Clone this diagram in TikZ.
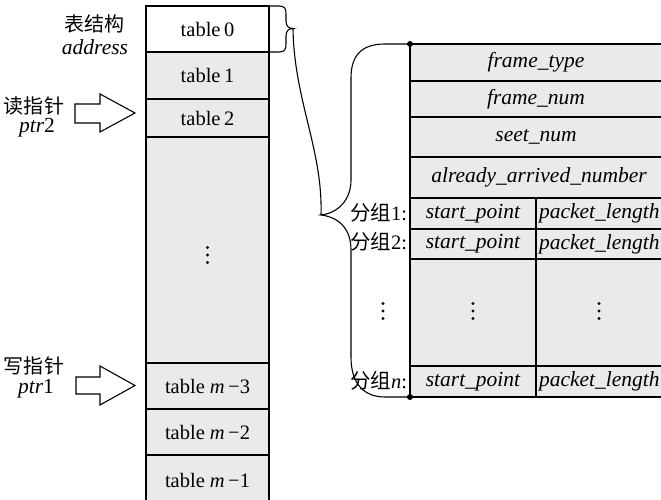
\documentclass[tikz,border=0pt]{standalone}
\usepackage{fontspec}
\setmainfont{Liberation Serif}
\newfontfamily\cjk{Noto Sans CJK SC}
\definecolor{cellgray}{RGB}{234,234,234}
\begin{document}
\begin{tikzpicture}[x=1pt,y=-1pt,
  every node/.style={inner sep=0pt,outer sep=0pt,font=\fontsize{20.5}{24}\selectfont},
  cellL/.style={draw,line width=1.7pt,fill=cellgray,minimum width=123pt},
  cellR/.style={draw,line width=1.7pt,fill=cellgray,minimum width=252pt},
  cellA/.style={draw,line width=1.7pt,fill=cellgray,minimum width=126pt},
  fieldtxt/.style={font=\fontsize{21.5}{24}\selectfont\itshape},
  cjklab/.style={font=\fontsize{20}{24}\selectfont\cjk},
  thin/.style={line width=1.1pt},
  hollowarrow/.style={draw,line width=1.1pt,fill=white,line join=miter}]
\clip (0,0) rectangle (661,500);
\fill[white] (0,0) rectangle (661,500);
% left table
\node[cellL,fill=white,minimum height=46pt] (t0) at (207.5,29) {table\,0};
\node[cellL,minimum height=47pt] (t1) at (207.5,75.5) {table\,1};
\node[cellL,minimum height=38pt] (t2) at (207.5,118) {table\,2};
\node[cellL,minimum height=226pt] (tdots) at (207.5,250) {};
\node[cellL,minimum height=46pt] (tm3) at (207.5,386) {table \textit{m}\,−3};
\node[cellL,minimum height=46pt] (tm2) at (207.5,432) {table \textit{m}\,−2};
\node[cellL,minimum height=56pt] (tm1) at (207.5,483) {\raisebox{5pt}{table \textit{m}\,−1}};
% left labels
\node[cjklab] (lbl1) at (94,24) {表结构};
\node[fieldtxt] (lbl2) at (95,47) {address};
\node[cjklab] (rd) at (34,106) {读指针};
\node[fieldtxt] (rdp) at (37,128) {ptr\upshape 2};
\node[cjklab] (wr) at (34,366) {写指针};
\node[fieldtxt] (wrp) at (36,389) {ptr\upshape 1};
% hollow arrows
\draw[hollowarrow] (75,104) -- (100,104) -- (100,94) -- (135,113) -- (100,132) -- (100,123) -- (75,123) -- cycle;
\draw[hollowarrow] (76,377) -- (100,377) -- (100,366) -- (135,385.5) -- (100,405) -- (100,394) -- (76,394) -- cycle;
% right table
\node[cellR,minimum height=37pt] (r1) at (536,62.5) {};
\node[cellR,minimum height=36pt] (r2) at (536,99) {};
\node[cellR,minimum height=40pt] (r3) at (536,137) {};
\node[cellR,minimum height=41pt] (r4) at (536,177.5) {};
\node[fieldtxt] (r1t) at (536,62) {frame\_type};
\node[fieldtxt] (r2t) at (536,99) {frame\_num};
\node[fieldtxt] (r3t) at (536,137) {seet\_num};
\node[fieldtxt] (r4t) at (539,177) {already\_arrived\_number};
\node[cellA,minimum height=31pt] (g1a) at (473,213.5) {};
\node[cellA,minimum height=31pt] (g1b) at (599,213.5) {};
\node[cellA,minimum height=30pt] (g2a) at (473,244) {};
\node[cellA,minimum height=30pt] (g2b) at (599,244) {};
\node[cellA,minimum height=107pt] (gda) at (473,312.5) {};
\node[cellA,minimum height=107pt] (gdb) at (599,312.5) {};
\node[cellA,minimum height=31pt] (gna) at (473,381.5) {};
\node[cellA,minimum height=31pt] (gnb) at (599,381.5) {};
\node[fieldtxt] (g1at) at (g1a) {start\_point};
\node[fieldtxt,anchor=west] (g1bt) at ([xshift=3pt]g1b.west) {packet\_length};
\node[fieldtxt] (g2at) at (g2a) {start\_point};
\node[fieldtxt,anchor=west] (g2bt) at ([xshift=3pt]g2b.west) {packet\_length};
\node[fieldtxt] (gnat) at (gna) {start\_point};
\node[fieldtxt,anchor=west] (gnbt) at ([xshift=3pt]gnb.west) {packet\_length};
% vertical ellipses
\foreach \px/\py in {207.5/255, 473/311, 599/311, 383/311}
  \foreach \dy in {-7.5,0,7.5}
    \fill (\px,\py+\dy) circle (1.7pt);
% group labels
\node[anchor=east] (p1) at (407,213) {{\cjk 分组}1:};
\node[anchor=east] (p2) at (407,242) {{\cjk 分组}2:};
\node[anchor=east] (pn) at (407,381) {{\cjk 分组}\textit{n}:};
% braces
\coordinate (sb) at (293,28.5);
\coordinate (bb) at (321,215);
\draw[thin] (t0.north east) -- (279,6) .. controls (285,6) and (286,9) .. (286,14) -- (286,21) .. controls (286,26) and (288.5,28.5) .. (sb)
  .. controls (288.5,28.5) and (286,31) .. (286,36) -- (286,44) .. controls (286,49) and (285,52) .. (279,52) -- (t0.south east);
\coordinate (rtop) at (r1.north west);
\coordinate (rbot) at (gna.south west);
\draw[thin] (rtop) -- (385,44) .. controls (362,44) and (351,55) .. (351,78) -- (351,180) .. controls (351,200) and (338,213) .. (bb)
  .. controls (338,217) and (351,228) .. (351,250) -- (351,357) .. controls (351,385) and (365,397) .. (385,397) -- (rbot);
\draw[thin] (sb) .. controls (294,100) and (323,150) .. (bb);
\fill (rtop) circle (3pt);
\fill (rbot) circle (3pt);
\end{tikzpicture}
\end{document}
